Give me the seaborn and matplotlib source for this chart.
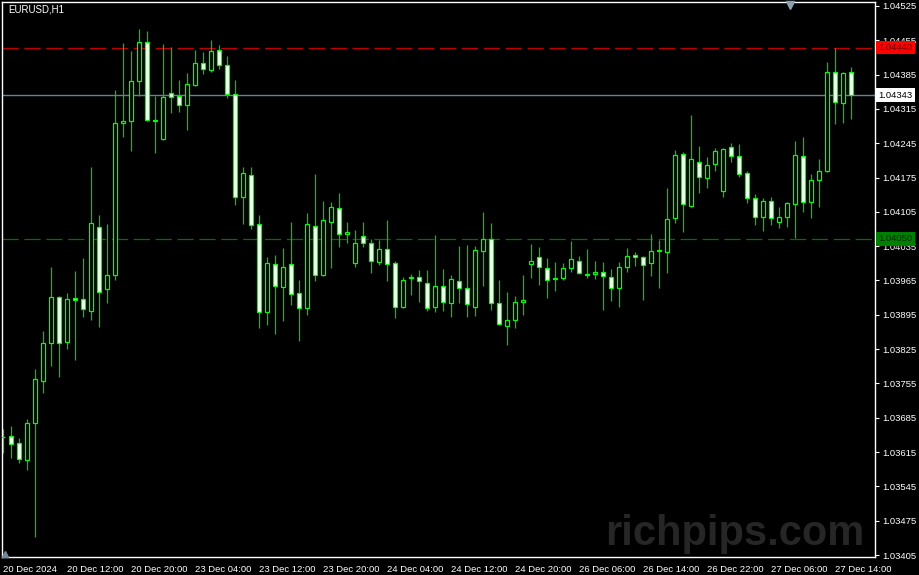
import numpy as np
import pandas as pd
import matplotlib
matplotlib.use("Agg")
import matplotlib.pyplot as plt
import matplotlib.transforms as mtransforms
import seaborn as sns

# EURUSD H1 candles (oldest first)
opens = [1.03646, 1.03648, 1.03634, 1.03599, 1.03674, 1.03760, 1.03838, 1.03931, 1.03840, 1.03929,
         1.03927, 1.03903, 1.04074, 1.03948, 1.03976, 1.04286, 1.04290, 1.04372, 1.04452, 1.04291,
         1.04254, 1.04348, 1.04341, 1.04323, 1.04364, 1.04409, 1.04394, 1.04435, 1.04405, 1.04345,
         1.04135, 1.04180, 1.04080, 1.03901, 1.03999, 1.03952, 1.03999, 1.03940, 1.03909, 1.04076,
         1.03976, 1.04084, 1.04113, 1.04060, 1.04001, 1.04056, 1.04042, 1.04003, 1.04029, 1.04001,
         1.03911, 1.03972, 1.03972, 1.03960, 1.03911, 1.03954, 1.03919, 1.03964, 1.03950, 1.03911,
         1.04025, 1.04050, 1.03919, 1.03872, 1.03884, 1.03921, 1.03999, 1.04013, 1.03991, 1.03968,
         1.03970, 1.03991, 1.04005, 1.03978, 1.03978, 1.03982, 1.03972, 1.03950, 1.03993, 1.04017,
         1.04013, 1.04001, 1.04025, 1.04023, 1.04093, 1.04223, 1.04117, 1.04207, 1.04174, 1.04203,
         1.04148, 1.04237, 1.04219, 1.04184, 1.04133, 1.04095, 1.04127, 1.04084, 1.04095, 1.04121,
         1.04219, 1.04125, 1.04170, 1.04188, 1.04390, 1.04327, 1.04390]
highs = [1.03662, 1.03668, 1.03644, 1.03682, 1.03784, 1.03862, 1.03993, 1.03933, 1.03940, 1.03984,
         1.04011, 1.04197, 1.04099, 1.04080, 1.04354, 1.04450, 1.04433, 1.04478, 1.04474, 1.04341,
         1.04447, 1.04441, 1.04374, 1.04388, 1.04435, 1.04431, 1.04456, 1.04445, 1.04423, 1.04374,
         1.04197, 1.04197, 1.04099, 1.04013, 1.04017, 1.04031, 1.04084, 1.03966, 1.04103, 1.04182,
         1.04127, 1.04125, 1.04144, 1.04084, 1.04068, 1.04084, 1.04050, 1.04048, 1.04088, 1.04005,
         1.03972, 1.03978, 1.03986, 1.03986, 1.04058, 1.03988, 1.03976, 1.04035, 1.04037, 1.04035,
         1.04105, 1.04082, 1.03966, 1.03942, 1.03933, 1.03976, 1.04039, 1.04033, 1.04011, 1.04003,
         1.04001, 1.04046, 1.04015, 1.04029, 1.04005, 1.04003, 1.03988, 1.04003, 1.04031, 1.04023,
         1.04015, 1.04060, 1.04048, 1.04154, 1.04231, 1.04227, 1.04303, 1.04239, 1.04217, 1.04235,
         1.04235, 1.04246, 1.04243, 1.04188, 1.04141, 1.04133, 1.04135, 1.04115, 1.04125, 1.04250,
         1.04258, 1.04182, 1.04213, 1.04411, 1.04439, 1.04390, 1.04401]
lows = [1.03613, 1.03603, 1.03593, 1.03578, 1.03442, 1.03736, 1.03791, 1.03768, 1.03825, 1.03803,
        1.03891, 1.03884, 1.03870, 1.03919, 1.03966, 1.04258, 1.04229, 1.04341, 1.04290, 1.04225,
        1.04252, 1.04307, 1.04309, 1.04272, 1.04362, 1.04386, 1.04390, 1.04396, 1.04337, 1.04119,
        1.04080, 1.04070, 1.03868, 1.03874, 1.03856, 1.03882, 1.03915, 1.03842, 1.03895, 1.03964,
        1.03974, 1.03991, 1.04033, 1.04042, 1.03993, 1.04033, 1.03980, 1.03997, 1.03964, 1.03889,
        1.03909, 1.03935, 1.03921, 1.03903, 1.03901, 1.03903, 1.03891, 1.03919, 1.03891, 1.03893,
        1.03954, 1.03905, 1.03874, 1.03833, 1.03868, 1.03895, 1.03970, 1.03956, 1.03929, 1.03944,
        1.03966, 1.03982, 1.03979, 1.03970, 1.03968, 1.03905, 1.03923, 1.03911, 1.03982, 1.03995,
        1.03925, 1.03974, 1.03950, 1.03980, 1.04082, 1.04064, 1.04115, 1.04144, 1.04154, 1.04188,
        1.04135, 1.04207, 1.04176, 1.04123, 1.04078, 1.04066, 1.04078, 1.04072, 1.04074, 1.04052,
        1.04105, 1.04093, 1.04115, 1.04186, 1.04284, 1.04286, 1.04294]
closes = [1.03645, 1.03631, 1.03601, 1.03674, 1.03764, 1.03838, 1.03931, 1.03838, 1.03927, 1.03925,
          1.03907, 1.04082, 1.03942, 1.03976, 1.04286, 1.04290, 1.04372, 1.04452, 1.04292, 1.04290,
          1.04339, 1.04339, 1.04323, 1.04366, 1.04409, 1.04396, 1.04433, 1.04405, 1.04345, 1.04135,
          1.04184, 1.04078, 1.03901, 1.04001, 1.03954, 1.03993, 1.03937, 1.03909, 1.04080, 1.03976,
          1.04088, 1.04115, 1.04060, 1.04064, 1.04042, 1.04042, 1.04005, 1.04029, 1.03999, 1.03911,
          1.03966, 1.03970, 1.03964, 1.03909, 1.03954, 1.03921, 1.03968, 1.03950, 1.03917, 1.04027,
          1.04050, 1.03919, 1.03876, 1.03884, 1.03921, 1.03925, 1.04005, 1.03993, 1.03966, 1.03970,
          1.03991, 1.04009, 1.03980, 1.03977, 1.03982, 1.03974, 1.03950, 1.03993, 1.04015, 1.04013,
          1.03997, 1.04025, 1.04026, 1.04090, 1.04221, 1.04121, 1.04213, 1.04176, 1.04201, 1.04229,
          1.04233, 1.04219, 1.04182, 1.04133, 1.04095, 1.04127, 1.04093, 1.04095, 1.04123, 1.04221,
          1.04125, 1.04170, 1.04188, 1.04390, 1.04329, 1.04388, 1.04343]

time_labels = ["20 Dec 2024", "20 Dec 12:00", "20 Dec 20:00", "23 Dec 04:00", "23 Dec 12:00",
               "23 Dec 20:00", "24 Dec 04:00", "24 Dec 12:00", "24 Dec 20:00", "26 Dec 06:00",
               "26 Dec 14:00", "26 Dec 22:00", "27 Dec 06:00", "27 Dec 14:00"]
price_ticks = [1.03405, 1.03475, 1.03545, 1.03615, 1.03685, 1.03755, 1.03825, 1.03895,
               1.03965, 1.04035, 1.04105, 1.04175, 1.04245, 1.04315, 1.04385, 1.04455, 1.04525]

resistance = 1.04440
support = 1.04050
bid = 1.04343

df = pd.DataFrame({"open": opens, "high": highs, "low": lows, "close": closes})
df["bar"] = np.arange(len(df))
df["bull"] = df["close"] >= df["open"]

sns.set_style("dark", {"axes.facecolor": "black", "figure.facecolor": "black"})
plt.rcParams["font.family"] = ["Liberation Sans", "DejaVu Sans"]

fig = plt.figure(figsize=(9.2, 5.75), dpi=100, facecolor="black")
ax = fig.add_axes([2 / 920, 18 / 575, 873 / 920, 555 / 575])
ax.set_facecolor("black")

# wicks then bodies
ax.vlines(df["bar"], df["low"], df["high"], color="#00c800", linewidth=0.9, zorder=2)
body_lo = df[["open", "close"]].min(axis=1)
body_h = (df["close"] - df["open"]).abs().clip(lower=0.000015)
fills = np.where(df["bull"], "black", "white")
ax.bar(df["bar"], body_h, bottom=body_lo, width=0.55, color=fills,
       edgecolor="#00ff00", linewidth=0.9, zorder=3)

# horizontal levels
ax.axhline(resistance, color="#c00000", linewidth=0.9, dashes=(13, 4.5), zorder=1)
ax.axhline(support, color="#007000", linewidth=0.9, dashes=(13, 4.5), zorder=1)
ax.axhline(bid, color="#6f7f8f", linewidth=1.0, zorder=1)

ax.set_xlim(-0.125, 109)
ax.set_ylim(1.03401, 1.04533)

ax.yaxis.tick_right()
ax.set_yticks(price_ticks)
ax.set_yticklabels([f"{v:.5f}" for v in price_ticks])
ax.set_xticks(df["bar"][::8][:len(time_labels)])
ax.set_xticklabels(time_labels)
for lab in ax.get_xticklabels():
    lab.set_horizontalalignment("left")
ax.tick_params(axis="both", colors="white", labelcolor="white", labelsize=6.8,
               length=3, width=0.8, direction="out", pad=2)
ax.tick_params(axis="x", pad=3)
for s in ax.spines.values():
    s.set_color("white")
    s.set_linewidth(1)
ax.grid(False)

# price tags on the right axis
trans = mtransforms.blended_transform_factory(ax.transAxes, ax.transData)
for val, bg, fg in [(resistance, "#ff0000", "#600000"), (bid, "white", "black"), (support, "#008000", "#002800")]:
    ax.text(1.004, val, f"{val:.5f}", transform=trans, fontsize=6.8, color=fg, va="center", ha="left",
            clip_on=False, zorder=10,
            bbox=dict(boxstyle="square,pad=0.25", facecolor=bg, edgecolor="none"))

# chart shift marker and watermark
ax.plot([0.9026], [0.994], marker="v", markersize=6, color="#8aa2b0", transform=ax.transAxes,
        clip_on=False, zorder=5)
ax.plot([0.004], [0.006], marker="^", markersize=4, color="#708898", transform=ax.transAxes,
        clip_on=False, zorder=5)
fig.text(605 / 920, 1 - 545 / 575, "richpips.com", fontsize=30, fontweight="bold",
         color="#262626", va="baseline", ha="left", family=["Liberation Sans", "DejaVu Sans"], zorder=0)
fig.text(8 / 920, 1 - 10 / 575, "EURUSD,H1", color="white", fontsize=7, va="center", ha="left")

fig.savefig("out.png", dpi=100, facecolor="black")
